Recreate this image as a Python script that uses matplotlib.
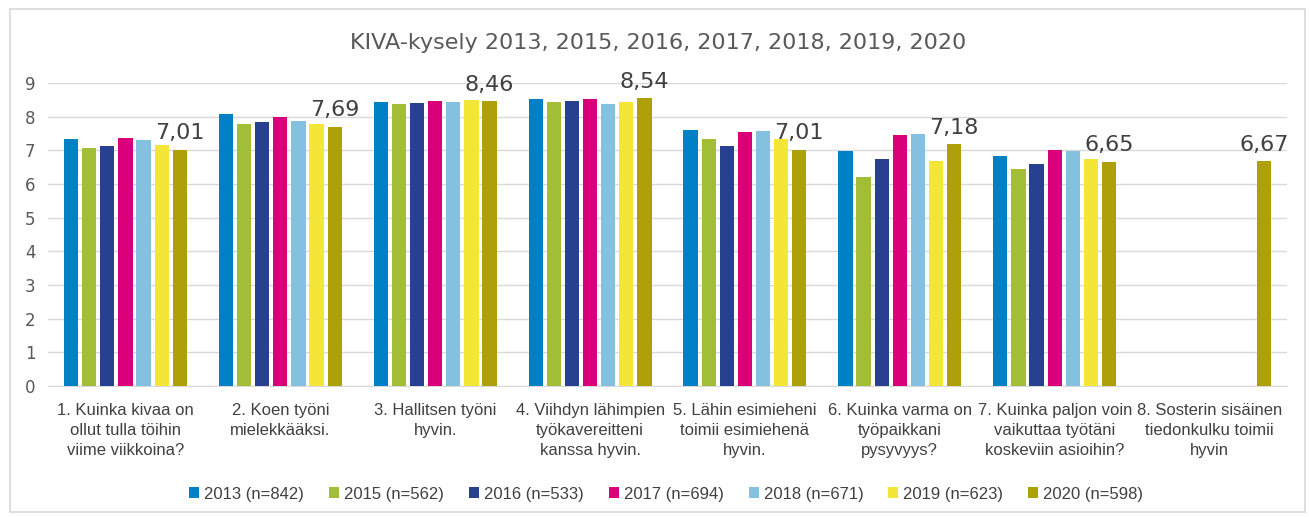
import numpy as np
import matplotlib
matplotlib.use("Agg")
import matplotlib.pyplot as plt
from matplotlib.patches import Rectangle

# Data
categories = [
    "1. Kuinka kivaa on\nollut tulla töihin\nviime viikkoina?",
    "2. Koen työni\nmielekkääksi.",
    "3. Hallitsen työni\nhyvin.",
    "4. Viihdyn lähimpien\ntyökavereitteni\nkanssa hyvin.",
    "5. Lähin esimieheni\ntoimii esimiehenä\nhyvin.",
    "6. Kuinka varma on\ntyöpaikkani\npysyvyys?",
    "7. Kuinka paljon voin\nvaikuttaa työtäni\nkoskeviin asioihin?",
    "8. Sosterin sisäinen\ntiedonkulku toimii\nhyvin",
]
series_names = ["2013 (n=842)", "2015 (n=562)", "2016 (n=533)", "2017 (n=694)",
                "2018 (n=671)", "2019 (n=623)", "2020 (n=598)"]
v2013 = [7.33, 8.07, 8.44, 8.52, 7.60, 6.98, 6.83, np.nan]
v2015 = [7.06, 7.78, 8.39, 8.44, 7.33, 6.20, 6.44, np.nan]
v2016 = [7.13, 7.84, 8.41, 8.47, 7.13, 6.75, 6.58, np.nan]
v2017 = [7.36, 7.98, 8.47, 8.52, 7.55, 7.45, 7.01, np.nan]
v2018 = [7.30, 7.87, 8.44, 8.37, 7.57, 7.49, 6.98, np.nan]
v2019 = [7.15, 7.78, 8.49, 8.44, 7.35, 6.69, 6.75, np.nan]
v2020 = [7.01, 7.69, 8.46, 8.54, 7.01, 7.18, 6.65, 6.67]
colors = ["#0081C6", "#A1BE36", "#27408F", "#D9007A", "#84C1E0", "#F4E637", "#ADA009"]
title = "KIVA-kysely 2013, 2015, 2016, 2017, 2018, 2019, 2020"

all_values = [v2013, v2015, v2016, v2017, v2018, v2019, v2020]

label_font = "Liberation Sans"
text_grey = "#404040"

fig = plt.figure(figsize=(13.09, 5.17), dpi=100)
ax = fig.add_axes([48 / 1309, 1 - 386 / 517, (1287 - 48) / 1309, (386 - 83) / 517])

x = np.arange(len(categories))
n = len(all_values)
step = 0.117
width = 0.092
for i, (vals, name, col) in enumerate(zip(all_values, series_names, colors)):
    pos = x + (i - (n - 1) / 2) * step
    ax.bar(pos, vals, width=width, color=col, label=name, zorder=3)
    if i == n - 1:
        # only the 2020 bars carry a value label
        for px, v in zip(pos, vals):
            ax.annotate(f"{v:.2f}".replace(".", ","), (px, v), xytext=(0, 12),
                        textcoords="offset points", ha="center", va="center",
                        fontsize=16, color=text_grey, annotation_clip=False)

ax.set_xlim(-0.5, len(categories) - 0.5)
ax.set_ylim(0, 9)
ax.set_yticks(range(0, 10))
ax.grid(axis="y", color="#D9D9D9", linewidth=1, zorder=0)
ax.set_axisbelow(True)
for s in ["top", "right", "left"]:
    ax.spines[s].set_visible(False)
ax.spines["bottom"].set_color("#D9D9D9")
ax.tick_params(axis="y", length=0, pad=9, labelsize=12, labelcolor="#595959")
ax.tick_params(axis="x", length=0, pad=12)
ax.set_xticks(x)
ax.set_xticklabels(categories, fontsize=12, color=text_grey, family=label_font,
                   linespacing=1.45, va="top")

fig.text(0.503, 1 - 43 / 517, title, ha="center", va="center", fontsize=16, color="#595959")

fig.legend(loc="center", bbox_to_anchor=(0.509, 1 - 494 / 517), ncol=7, frameon=False,
           handlelength=0.6, handleheight=0.6, handletextpad=0.3, columnspacing=1.5,
           prop={"family": label_font, "size": 12}, labelcolor=text_grey)

fig.patches.append(Rectangle((10 / 1309, 5 / 517), 1295 / 1309, 503 / 517,
                             transform=fig.transFigure, fill=False,
                             edgecolor="#D9D9D9", linewidth=1.2))

fig.savefig("out.png", dpi=100)
